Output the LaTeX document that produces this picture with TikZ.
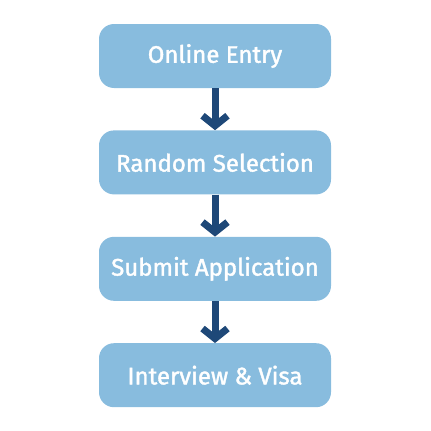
\documentclass[tikz,border=0pt]{standalone}
\usepackage{fontspec}
\newfontfamily\boxfont{Fira Sans}[FakeBold=1.6]
\usetikzlibrary{positioning,arrows.meta}
\definecolor{boxblue}{RGB}{136,188,222}
\definecolor{arrowblue}{RGB}{30,72,120}

\begin{document}
\begin{tikzpicture}[x=1pt, y=1pt, node distance=42pt,
                    every node/.style={rectangle, rounded corners=15pt, fill=boxblue, text=white,
                                       minimum width=232pt, minimum height=64pt,
                                       font=\boxfont\fontsize{24}{28}\selectfont},
                    every edge/.style={draw, line width=7pt, arrowblue}]
                    \useasboundingbox (0,0) rectangle (431,-431);

                    % Define nodes
                    \node (A) at (215,-56) {Online Entry}; % first step
                    \node[below=of A] (B) {Random Selection}; % draw
                    \node[below=of B] (C) {Submit Application}; % forms
                    \node[below=of C] (D) {Interview \& Visa}; % last step

                    % Define edges
                    \path [-{Straight Barb[length=10pt, width=25pt]}](A) edge (B);
                    \path [-{Straight Barb[length=10pt, width=25pt]}](B) edge (C);
                    \path [-{Straight Barb[length=10pt, width=25pt]}](C) edge (D);
                \end{tikzpicture}
\end{document}
